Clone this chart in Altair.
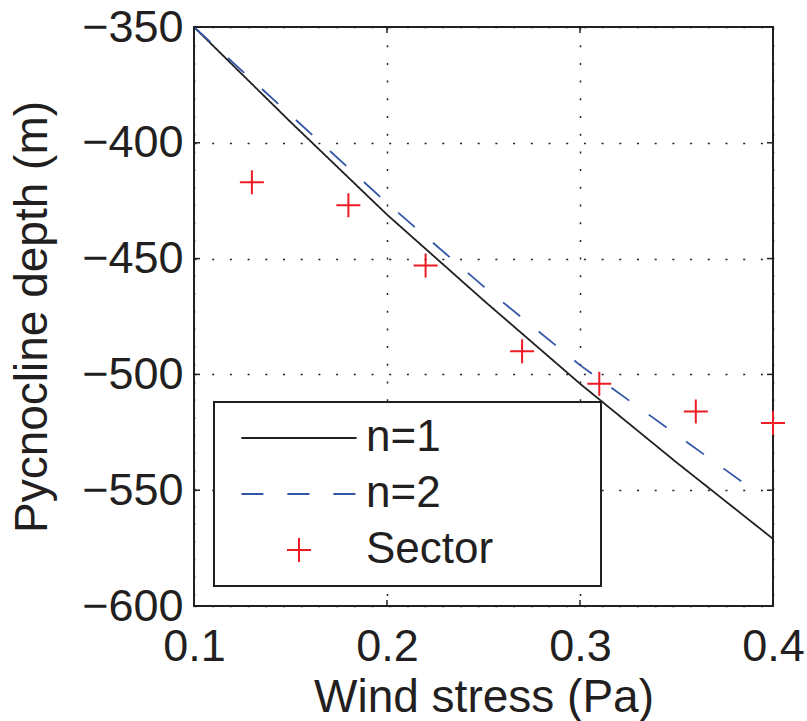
import altair as alt
import pandas as pd

# ---- data ----
tau_n1 = [0.10, 0.15, 0.20, 0.25, 0.30, 0.35, 0.40]
depth_n1 = [-350, -391, -431, -468, -504, -538, -571]
tau_n2 = [0.10, 0.15, 0.20, 0.25, 0.30, 0.35, 0.39]
depth_n2 = [-350, -388, -426, -462, -496, -526, -550]
tau_sector = [0.13, 0.18, 0.22, 0.27, 0.31, 0.36, 0.40]
depth_sector = [-417, -427, -453, -490, -504, -516, -521]
series_names = ["n=1", "n=2", "Sector"]
x_ticks = [0.1, 0.2, 0.3, 0.4]
y_ticks = [-600, -550, -500, -450, -400, -350]

INK = "#231f20"
FONT = "Liberation Sans"
colors = [INK, "#3356a6", "#ed1c24"]
line_path = "M-4.8,0H4.8"
plus_path = "M-1,0H1M0,-1V1"

lines_df = pd.concat([
    pd.DataFrame({"tau": tau_n1, "depth": depth_n1, "series": "n=1"}),
    pd.DataFrame({"tau": tau_n2, "depth": depth_n2, "series": "n=2"}),
], ignore_index=True)
sector_df = pd.DataFrame({"tau": tau_sector, "depth": depth_sector, "series": "Sector"})
xt_df = pd.DataFrame({"tau": x_ticks})
yt_df = pd.DataFrame({"depth": y_ticks})
box_df = pd.DataFrame({"k": [0]})

x_enc = alt.X("tau:Q",
              scale=alt.Scale(domain=[0.1, 0.4], nice=False, zero=False),
              axis=alt.Axis(values=x_ticks, format=".1f", title="Wind stress (Pa)",
                            labelFlush=False, labelPadding=18, titlePadding=6))
y_enc = alt.Y("depth:Q",
              scale=alt.Scale(domain=[-600, -350], nice=False, zero=False),
              axis=alt.Axis(values=y_ticks, format="d", title="Pycnocline depth (m)",
                            labelFlush=False, labelPadding=11, titlePadding=25))

legend = alt.Legend(title=None, orient="none", legendX=83, legendY=389,
                    labelFont=FONT, labelFontSize=44, labelColor=INK,
                    labelOffset=45, rowPadding=12, symbolSize=576,
                    symbolStrokeWidth=2, padding=0, labelLimit=300)

color_enc = alt.Color("series:N", scale=alt.Scale(domain=series_names, range=colors), legend=legend)
dash_enc = alt.StrokeDash("series:N",
                          scale=alt.Scale(domain=series_names, range=[[1, 0], [22, 24], [1, 0]]),
                          legend=legend)
shape_enc = alt.Shape("series:N",
                      scale=alt.Scale(domain=series_names, range=[line_path, line_path, plus_path]),
                      legend=legend)

lines = alt.Chart(lines_df).mark_line(strokeWidth=1.8).encode(
    x=x_enc, y=y_enc, color=color_enc, strokeDash=dash_enc, order="tau:Q")

points = alt.Chart(sector_df).mark_point(filled=False, strokeWidth=2, size=576, opacity=1).encode(
    x=x_enc, y=y_enc, color=color_enc, shape=shape_enc)

box = alt.Chart(box_df).mark_rect(fill="white", stroke=INK, strokeWidth=2).encode(
    x=alt.value(20), x2=alt.value(407), y=alt.value(375), y2=alt.value(559))

tick_style = dict(color=INK, strokeWidth=1.5)
t_bottom = alt.Chart(xt_df).mark_rule(**tick_style).encode(x=x_enc, y=alt.value(579), y2=alt.value(573))
t_top = alt.Chart(xt_df).mark_rule(**tick_style).encode(x=x_enc, y=alt.value(0), y2=alt.value(6))
t_left = alt.Chart(yt_df).mark_rule(**tick_style).encode(y=y_enc, x=alt.value(0), x2=alt.value(6))
t_right = alt.Chart(yt_df).mark_rule(**tick_style).encode(y=y_enc, x=alt.value(579), x2=alt.value(573))

chart = alt.layer(lines, points, box, t_bottom, t_top, t_left, t_right).properties(
    width=579, height=579,
    padding={"left": 194, "top": 27, "right": 34, "bottom": 115},
    autosize=alt.AutoSizeParams(type="none"),
    background="white",
).configure_view(
    stroke=INK, strokeWidth=2
).configure_axis(
    domain=False, ticks=False,
    labelFont=FONT, labelFontSize=45, labelColor=INK,
    titleFont=FONT, titleFontSize=46, titleFontWeight="normal", titleColor=INK,
    grid=True, gridColor=INK, gridDash=[2, 15.7], gridWidth=1.5, gridOpacity=1,
)

chart.save("out.html", embed_options={"renderer": "svg", "actions": False})
